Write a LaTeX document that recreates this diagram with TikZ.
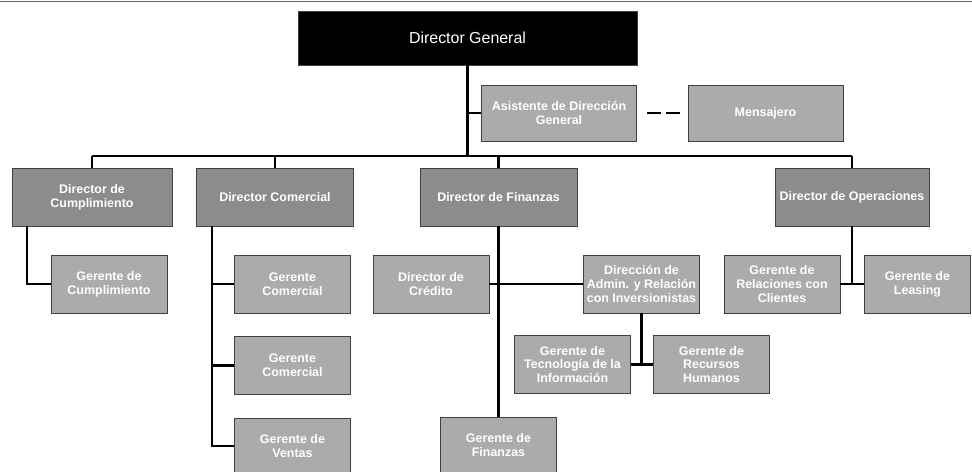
\documentclass[tikz,border=0pt]{standalone}
\usepackage{fontspec}
\setmainfont{Liberation Sans}
\usetikzlibrary{positioning}
\usetikzlibrary{calc}

\begin{document}
\begin{tikzpicture}[x=1bp,y=-1bp,
  box/.style={draw=black!75,line width=0.6bp,align=center,inner sep=2bp,text=white,font=\fontsize{12.5}{14}\selectfont\bfseries},
  head/.style={box,fill=black,minimum width=339bp,minimum height=54bp,font=\fontsize{16}{18}\selectfont},
  dir/.style={box,fill=black!45,minimum width=157bp,minimum height=58bp},
  mgr/.style={box,fill=black!33,minimum width=116bp,minimum height=58bp},
  link/.style={line width=2.2bp}]
\useasboundingbox (0,0) rectangle (972,472);
\draw[black!60,line width=1bp] (0,1.5) -- (972,1.5);
\node[head] (dg) at (467.5,38) {Director General};
\node[mgr,minimum width=155bp,minimum height=56bp] (asis) at (559,113) {Asistente de Dirección\\General};
\node[mgr,minimum width=155bp,minimum height=56bp] (mens) at (765.5,113) {Mensajero};
\coordinate (bus) at (467.5,156);
% directores
\node[dir,minimum width=160bp] (dcum) at (92,197) {Director de\\Cumplimiento};
\node[dir] (dcom) at (275,197) {Director Comercial};
\node[dir] (dfin) at (498.5,197) {Director de Finanzas};
\node[dir,minimum width=154bp] (dops) at (852,197) {Director de Operaciones};
% gerentes
\node[mgr] (gcum) at (109,284) {Gerente de\\Cumplimiento};
\node[mgr] (gcom1) at (292.5,284) {Gerente\\Comercial};
\node[mgr] (gcom2) at (292.5,365.5) {Gerente\\Comercial};
\node[mgr,minimum height=56bp] (gven) at (292.5,446) {Gerente de\\Ventas};
\node[mgr] (dcre) at (431,284) {Director de\\Crédito};
\node[mgr] (dadm) at (641.5,284) {Dirección de\\Admin. y Relación\\con Inversionistas};
\node[mgr] (gti) at (572.5,364.5) {Gerente de\\Tecnología de la\\Información};
\node[mgr] (grh) at (711.5,364.5) {Gerente de\\Recursos\\Humanos};
\node[mgr,minimum height=56bp] (gfin) at (498.5,445) {Gerente de\\Finanzas};
\node[mgr] (grel) at (782,284) {Gerente de\\Relaciones con\\Clientes};
\node[mgr,minimum width=106bp] (glea) at (917.5,284) {Gerente de\\Leasing};
% lineas
\draw[link] (dg.south) -- (bus);
\draw[link] (dg.south |- asis.west) -- (asis.west);
\draw[link,dash pattern=on 14bp off 5bp] ([xshift=10bp]asis.east) -- ([xshift=-8bp]mens.west);
\draw[link] (dcum.north |- bus) -- (dops.north |- bus);
\foreach \n in {dcum,dcom,dfin,dops}
  \draw[link] (\n.north) -- (\n.north |- bus);
\draw[link] ([xshift=-65bp]dcum.south) |- (gcum.west);
\coordinate (comline) at ([xshift=-63bp]dcom.south);
\draw[link] (comline) |- (gven.west);
\foreach \g in {gcom1,gcom2}
  \draw[link] (comline |- \g.west) -- (\g.west);
\draw[link] (dfin.south) -- (gfin.north);
\draw[link] (dcre.east) -- (dadm.west);
\draw[link] (dadm.south) -- (dadm.south |- gti.east);
\draw[link] (gti.east) -- (grh.west);
\draw[link] (dops.south) -- (dops.south |- grel.east);
\draw[link] (grel.east) -- (glea.west);
\end{tikzpicture}
\end{document}
